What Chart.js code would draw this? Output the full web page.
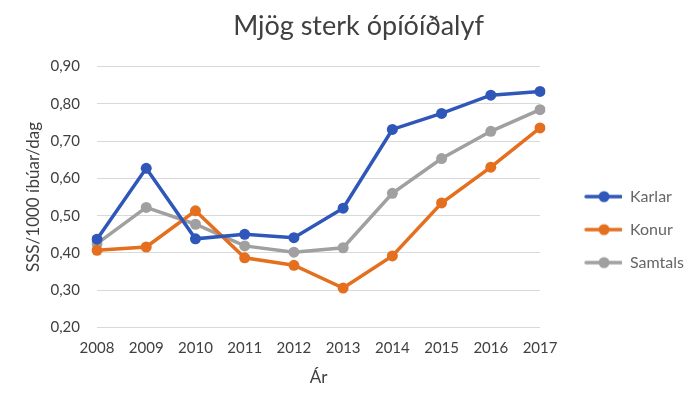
<!DOCTYPE html>
<html>
<head>
<meta charset="utf-8">
<script src="https://cdn.jsdelivr.net/npm/chart.js@4/dist/chart.umd.min.js"></script>
<style>
html,body{margin:0;padding:0;background:#fff;}
#wrap{width:700px;height:408px;}
</style>
</head>
<body>
<div id="wrap"><canvas id="c" width="700" height="408"></canvas></div>
<script>
const years = ['2008','2009','2010','2011','2012','2013','2014','2015','2016','2017'];
const karlar = [0.437, 0.627, 0.438, 0.450, 0.441, 0.520, 0.731, 0.774, 0.823, 0.833];
const konur = [0.407, 0.416, 0.513, 0.387, 0.367, 0.306, 0.392, 0.534, 0.630, 0.735];
const samtals = [0.425, 0.522, 0.477, 0.419, 0.402, 0.414, 0.560, 0.653, 0.726, 0.784];
const seriesNames = ['Karlar', 'Konur', 'Samtals'];
const colors = ['#2F56B9', '#E4701F', '#A0A0A0'];

const FONT = 'Lato, "Open Sans", sans-serif';
const TXT = '#404040';
const LEG_PAD = 17;
const BOX_W = 65;

function legendIcon(color) {
  const c = document.createElement('canvas');
  c.width = BOX_W; c.height = 14;
  const g = c.getContext('2d');
  g.strokeStyle = color; g.lineWidth = 3.5; g.lineCap = 'round';
  g.beginPath(); g.moveTo(29, 7); g.lineTo(BOX_W - 1, 7); g.stroke();
  g.fillStyle = color;
  g.beginPath(); g.arc(47, 7, 5.5, 0, Math.PI * 2); g.fill();
  return c;
}

const seriesData = [karlar, konur, samtals];
const datasets = seriesNames.map((n, i) => ({
  label: n,
  data: seriesData[i],
  borderColor: colors[i],
  backgroundColor: colors[i],
  borderWidth: 3.5,
  pointRadius: 5.5,
  pointHoverRadius: 5.5,
  pointBorderWidth: 0,
  tension: 0,
  pointStyle: 'circle'
}));
const icons = colors.map(legendIcon);

new Chart(document.getElementById('c'), {
  type: 'line',
  data: { labels: years, datasets: datasets },
  options: {
    responsive: false,
    animation: false,
    devicePixelRatio: 1,
    layout: { padding: { left: 23, right: 6, top: 0, bottom: 12 } },
    plugins: {
      title: {
        display: true,
        text: 'Mjög sterk ópíóíðalyf',
        color: TXT,
        font: { family: FONT, size: 27, weight: 'normal' },
        padding: { top: 10, bottom: 24 }
      },
      legend: {
        display: true,
        position: 'right',
        title: { display: true, text: '', font: { size: 1 }, padding: { top: 31, bottom: 31 } },
        labels: {
          usePointStyle: true,
          pointStyleWidth: BOX_W,
          padding: LEG_PAD,
          color: TXT,
          font: { family: FONT, size: 16 },
          generateLabels: (chart) => seriesNames.map((n, i) => ({
            text: n,
            fillStyle: colors[i],
            strokeStyle: colors[i],
            lineWidth: 0,
            pointStyle: icons[i],
            datasetIndex: i,
            hidden: false
          }))
        }
      },
      tooltip: { enabled: false }
    },
    scales: {
      x: {
        offset: false,
        grid: { display: false, drawTicks: false },
        border: { display: false },
        ticks: { color: TXT, font: { family: FONT, size: 15 }, padding: 12, maxRotation: 0 },
        title: { display: true, text: 'Ár', color: TXT, font: { family: FONT, size: 17 }, padding: { top: -2, bottom: 8 } }
      },
      y: {
        min: 0.2,
        max: 0.9,
        afterFit: (scale) => { scale.width = 74; },
        grid: { color: '#D9D9D9', lineWidth: 1, drawTicks: false },
        border: { display: false },
        ticks: {
          stepSize: 0.1,
          color: TXT,
          font: { family: FONT, size: 15 },
          padding: 17,
          callback: (v) => Number(v).toFixed(2).replace('.', ',')
        },
        title: { display: true, text: 'SSS/1000 íbúar/dag', color: TXT, font: { family: FONT, size: 17 }, padding: { top: 0, bottom: 8 } }
      }
    }
  }
});
</script>
</body>
</html>
